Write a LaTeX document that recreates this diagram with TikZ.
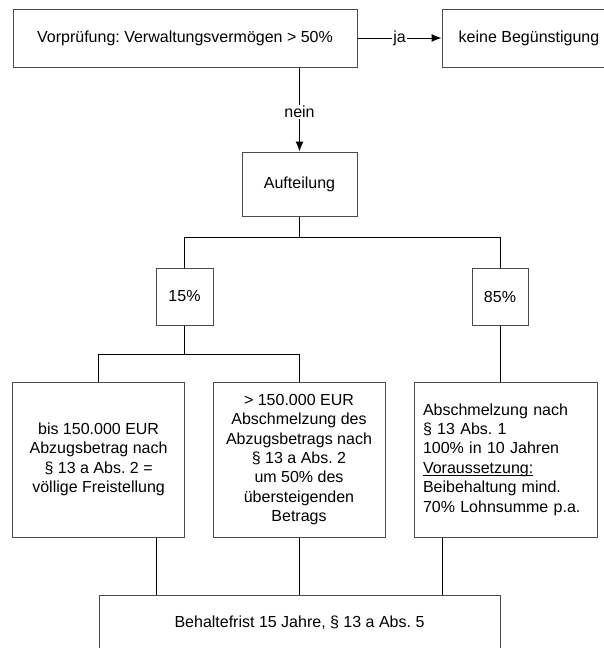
\documentclass[tikz,border=0pt]{standalone}
\usepackage{fontspec}
\setmainfont{Liberation Sans}
\usetikzlibrary{arrows.meta}
\frenchspacing
% underline drawn close to the baseline
\newcommand\lineunder[1]{\leavevmode\setbox0\hbox{#1}\rlap{\rule[-2pt]{\wd0}{0.8pt}}\box0}
\begin{document}
\begin{tikzpicture}[x=1pt,y=-1pt,
  font=\fontsize{16}{19.4}\selectfont,
  box/.style={draw=black!70, line width=1pt, fill=white, inner sep=0pt, align=center},
  conn/.style={draw=black, line width=1pt},
  tip/.style={-{Latex[length=10pt,width=8pt]}},
  lbl/.style={fill=white, inner sep=1pt}]
\useasboundingbox (0,0) rectangle (603,648);

% boxes
\node[box, minimum width=344pt, minimum height=58pt] (pre) at (185,38) {Vorprüfung: Verwaltungsvermögen > 50\%};
\node[box, minimum width=174pt, minimum height=58pt] (none) at (529,38) {keine Begünstigung};
\node[box, minimum width=115pt, minimum height=64pt] (auf) at (299.5,184) {Aufteilung};
\node[box, minimum width=57pt, minimum height=57pt] (p15) at (184.5,296.5) {15\%};
\node[box, minimum width=56pt, minimum height=57pt] (p85) at (500,296.5) {85\%};
\node[box, minimum width=172pt, minimum height=155pt] (low) at (98.6,459.5)
  {bis 150.000 EUR\\Abzugsbetrag nach\\§ 13 a Abs. 2 =\\völlige Freistellung};
\node[box, minimum width=172pt, minimum height=155pt] (high) at (299,459.5)
  {> 150.000 EUR\\Abschmelzung des\\Abzugsbetrags nach\\§ 13 a Abs. 2\\um 50\% des\\übersteigenden\\Betrags};
\node[box, minimum width=183pt, minimum height=155pt, align=left, text width=165pt] (abs) at (505.5,459.5)
  {Abschmelzung nach\\§ 13 Abs. 1\\100\% in 10 Jahren\\\lineunder{Voraussetzung:}\\Beibehaltung mind.\\70\% Lohnsumme p.a.};
\node[box, minimum width=401pt, minimum height=56pt] (keep) at (299.5,623) {Behaltefrist 15 Jahre, § 13 a Abs. 5};

% helper coordinates
\coordinate (split) at (299.5,237);
\coordinate (sub) at (184.5,354);
\coordinate (c1) at (156,0);
\coordinate (c3) at (442,0);

% connectors
\draw[conn, tip] (pre.east) -- node[lbl] {ja} (none.west);
\draw[conn, tip] (auf.north |- pre.south) -- node[lbl, pos=0.53] {nein} (auf.north);
\draw[conn] (auf.south) -- (split);
\draw[conn] (split) -| (p15.north);
\draw[conn] (split) -| (p85.north);
\draw[conn] (p15.south) -- (sub);
\draw[conn] (sub) -| (low.north);
\draw[conn] (sub) -| (high.north);
\draw[conn] (p85.south) -- (p85.south |- abs.north);
\draw[conn] (low.south -| c1) -- (keep.north -| c1);
\draw[conn] (high.south) -- (high.south |- keep.north);
\draw[conn] (abs.south -| c3) -- (keep.north -| c3);
\end{tikzpicture}
\end{document}
